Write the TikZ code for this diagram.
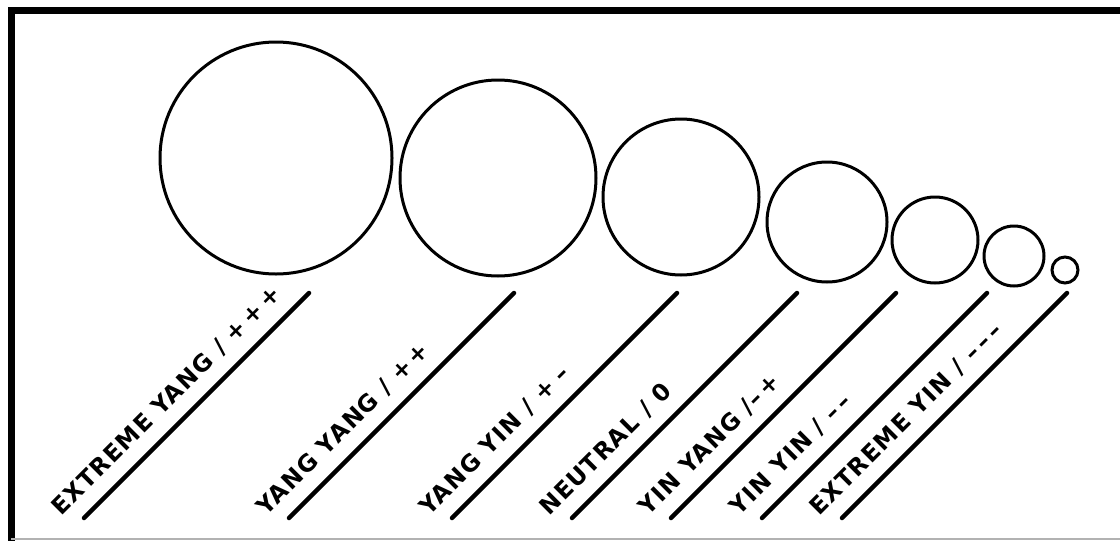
\documentclass[tikz,border=0pt]{standalone}
\usepackage{fontspec}
\setmainfont{DejaVu Sans}[LetterSpace=6]
\usetikzlibrary{calc}
\begin{document}
\begin{tikzpicture}[x=1pt,y=-1pt,
  ring/.style={draw, circle, line width=3pt, inner sep=0pt},
  bar/.style={line width=4.5pt, line cap=round},
  lbl/.style={font=\bfseries\fontsize{23.5}{23.5}\selectfont, rotate=45, anchor=base west, inner sep=0pt}]
\useasboundingbox (0,0) rectangle (1120,541);
% frame
\draw[line width=7pt] (11,541) -- (11,10) -- (1120,10);
\draw[gray!60, line width=2pt] (11,539) -- (1120,539);
% circles
\node[ring, minimum size=232pt] (c1) at (276,158) {};
\node[ring, minimum size=196pt] (c2) at (498,178) {};
\node[ring, minimum size=156pt] (c3) at (681,197) {};
\node[ring, minimum size=120pt] (c4) at (827,222) {};
\node[ring, minimum size=86pt]  (c5) at (935,240) {};
\node[ring, minimum size=60pt]  (c6) at (1014,256) {};
\node[ring, minimum size=26pt]  (c7) at (1065,270) {};
% line end points
\foreach \i/\x in {1/84,2/289,3/452,4/572,5/671,6/762,7/842}{
  \coordinate (a\i) at (\x,518);
  \coordinate (b\i) at (\x+225,293);
}
\foreach \i in {1,...,7}{ \draw[bar] (a\i) -- (b\i); }
% labels
\node[lbl] (t1) at ($(a1)+(-23,-1)$) {EXTREME YANG / +\,+\,+};
\node[lbl] (t2) at ($(a2)+(-23,-1)$) {YANG YANG / +\,+};
\node[lbl] (t3) at ($(a3)+(-23,-1)$) {YANG YIN / +\,\,–};
\node[lbl] (t4) at ($(a4)+(-23,-1)$) {NEUTRAL / 0};
\node[lbl] (t5) at ($(a5)+(-23,-1)$) {YIN YANG /–\,+};
\node[lbl] (t6) at ($(a6)+(-23,-1)$) {YIN YIN / –\,–};
\node[lbl] (t7) at ($(a7)+(-23,-1)$) {EXTREME YIN / –\,–\,–};
\end{tikzpicture}
\end{document}
